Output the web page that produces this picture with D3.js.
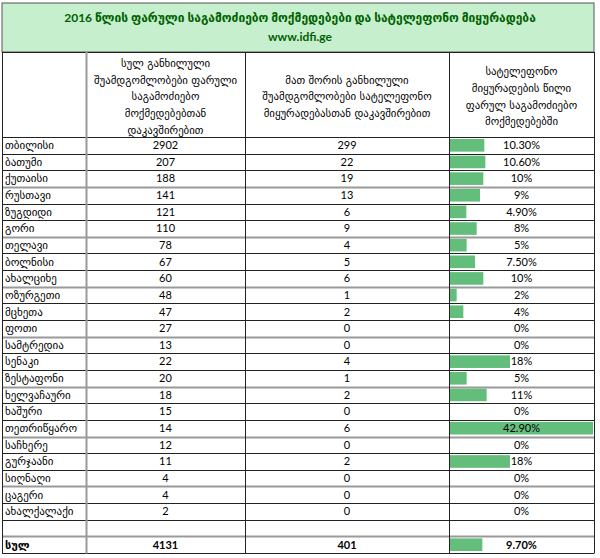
<!DOCTYPE html>
<html>
<head>
<meta charset="utf-8">
<script src="https://cdn.jsdelivr.net/npm/d3@7"></script>
<style>
    body { margin: 0; background: #fff; }
    svg { display: block; font-family: Lato, "DejaVu Sans", sans-serif; }
    .cell { font-size: 11px; fill: #000; }
    .geo { font-family: "DejaVu Sans", sans-serif; font-size: 11px; }
    .head { font-family: "DejaVu Sans", sans-serif; font-size: 10.8px; }
    .title { font-size: 12px; font-weight: bold; fill: #006100; }
</style>
</head>
<body>
<svg width="600" height="558"></svg>
<script>
var cities = ['თბილისი', 'ბათუმი', 'ქუთაისი', 'რუსთავი', 'ზუგდიდი', 'გორი', 'თელავი', 'ბოლნისი',
    'ახალციხე', 'ოზურგეთი', 'მცხეთა', 'ფოთი', 'სამტრედია', 'სენაკი', 'ზესტაფონი', 'ხელვაჩაური',
    'ხაშური', 'თეთრიწყარო', 'საჩხერე', 'გურჯაანი', 'სიღნაღი', 'ცაგერი', 'ახალქალაქი'];
var totalRequests = [2902, 207, 188, 141, 121, 110, 78, 67, 60, 48, 47, 27, 13, 22, 20, 18, 15, 14, 12, 11, 4, 4, 2];
var phoneRequests = [299, 22, 19, 13, 6, 9, 4, 5, 6, 1, 2, 0, 0, 4, 1, 2, 0, 6, 0, 2, 0, 0, 0];
var sharePct = [10.3, 10.6, 10, 9, 4.9, 8, 5, 7.5, 10, 2, 4, 0, 0, 18, 5, 11, 0, 42.9, 0, 18, 0, 0, 0];
var shareLabels = ['10.30%', '10.60%', '10%', '9%', '4.90%', '8%', '5%', '7.50%', '10%', '2%', '4%', '0%', '0%',
    '18%', '5%', '11%', '0%', '42.90%', '0%', '18%', '0%', '0%', '0%'];
var totalLabel = 'სულ';
var totalAll = 4131;
var totalPhone = 401;
var totalShare = 9.7;
var totalShareLabel = '9.70%';

var titleLines = ['2016 წლის ფარული საგამოძიებო მოქმედებები და სატელეფონო მიყურადება', 'www.idfi.ge'];
var headers = [
    [],
    ['სულ განხილული', 'შუამდგომლობები ფარული', 'საგამოძიებო', 'მოქმედებებთან', 'დაკავშირებით'],
    ['მათ შორის განხილული', 'შუამდგომლობები სატელეფონო', 'მიყურადებასთან დაკავშირებით'],
    ['სატელეფონო', 'მიყურადების წილი', 'ფარულ საგამოძიებო', 'მოქმედებებში']
];

var svg = d3.select('svg');

// Layout
var colX = [2, 86, 245, 449, 594];
var titleTop = 3, headTop = 52, bodyTop = 137, bodyBottom = 553;

// rows: cities + empty row + total row
var rowKeys = d3.range(cities.length + 2);
var y = d3.scaleBand().domain(rowKeys).range([bodyTop, bodyBottom]);
var barScale = d3.scaleLinear().domain([0, d3.max(sharePct)]).range([0, colX[4] - colX[3] - 2]);

// Title band
svg.append('rect')
    .attr('x', colX[0]).attr('y', titleTop)
    .attr('width', colX[4] - colX[0]).attr('height', headTop - titleTop)
    .attr('fill', '#c6efce').attr('stroke', '#555').attr('stroke-width', 1);

svg.selectAll('.title')
    .data(titleLines)
    .enter().append('text')
    .attr('class', 'title')
    .attr('x', 300)
    .attr('y', (d, i) => 22 + i * 19)
    .attr('text-anchor', 'middle')
    .text(d => d);

// Header text
headers.forEach(function(lines, c) {
    var cx = (colX[c] + colX[c + 1]) / 2;
    var lh = 16.7;
    var mid = (headTop + bodyTop) / 2 + 2;
    svg.selectAll('.head' + c)
        .data(lines)
        .enter().append('text')
        .attr('class', 'cell head')
        .attr('x', cx)
        .attr('y', (d, i) => mid + (i - (lines.length - 1) / 2) * lh)
        .attr('dy', '0.35em')
        .attr('text-anchor', 'middle')
        .text(d => d);
});

// Table rows
var rows = cities.map(function(c, i) {
    return {name: c, all: totalRequests[i], phone: phoneRequests[i], share: sharePct[i], label: shareLabels[i], bold: false};
});
rows.push({name: '', all: '', phone: '', share: 0, label: '', bold: false});
rows.push({name: totalLabel, all: totalAll, phone: totalPhone, share: totalShare, label: totalShareLabel, bold: true});

var rowG = svg.selectAll('.row')
    .data(rows)
    .enter().append('g')
    .attr('class', 'row')
    .attr('transform', (d, i) => 'translate(0,' + y(i) + ')');

rowG.append('rect')
    .attr('x', colX[3] + 1)
    .attr('y', 2)
    .attr('height', y.bandwidth() - 4)
    .attr('width', d => barScale(d.share))
    .attr('fill', '#63be7b');

rowG.append('text')
    .attr('class', 'cell geo')
    .attr('x', colX[0] + 3)
    .attr('y', y.bandwidth() / 2)
    .attr('dy', '0.35em')
    .style('font-weight', d => d.bold ? 'bold' : null)
    .text(d => d.name);

rowG.append('text')
    .attr('class', 'cell')
    .attr('x', (colX[1] + colX[2]) / 2)
    .attr('y', y.bandwidth() / 2)
    .attr('dy', '0.35em')
    .attr('text-anchor', 'middle')
    .style('font-weight', d => d.bold ? 'bold' : null)
    .text(d => d.all);

rowG.append('text')
    .attr('class', 'cell')
    .attr('x', (colX[2] + colX[3]) / 2)
    .attr('y', y.bandwidth() / 2)
    .attr('dy', '0.35em')
    .attr('text-anchor', 'middle')
    .style('font-weight', d => d.bold ? 'bold' : null)
    .text(d => d.phone);

rowG.append('text')
    .attr('class', 'cell')
    .attr('x', (colX[3] + colX[4]) / 2)
    .attr('y', y.bandwidth() / 2)
    .attr('dy', '0.35em')
    .attr('text-anchor', 'middle')
    .style('font-weight', d => d.bold ? 'bold' : null)
    .text(d => d.label);

// Grid lines: every third row boundary is a thicker grey rule
var hLines = [headTop, bodyTop].concat(rowKeys.map(i => y(i) + y.bandwidth()));
svg.selectAll('.hline')
    .data(hLines)
    .enter().append('line')
    .attr('class', 'hline')
    .attr('x1', colX[0]).attr('x2', colX[4])
    .attr('y1', d => Math.round(d) + 0.5).attr('y2', d => Math.round(d) + 0.5)
    .attr('stroke', (d, i) => (i >= 2 && (i - 1) % 3 === 0 && i < hLines.length - 1) ? '#9a9a9a' : '#222')
    .attr('stroke-width', (d, i) => (i >= 2 && (i - 1) % 3 === 0 && i < hLines.length - 1) ? 2 : 1);

svg.selectAll('.vline')
    .data(colX)
    .enter().append('line')
    .attr('class', 'vline')
    .attr('x1', d => d + 0.5).attr('x2', d => d + 0.5)
    .attr('y1', headTop).attr('y2', Math.round(bodyBottom) + 0.5)
    .attr('stroke', (d, i) => i === 1 ? '#9a9a9a' : '#222')
    .attr('stroke-width', (d, i) => i === 1 ? 2 : 1);
</script>
</body>
</html>
